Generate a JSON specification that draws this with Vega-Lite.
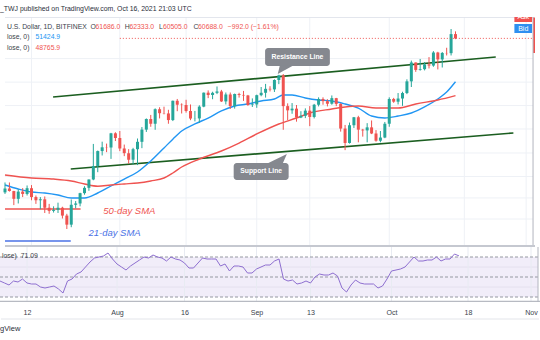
{
"$schema":"https://vega.github.io/schema/vega-lite/v6.json",
"background":"white",
"padding":{"left":0,"right":0,"top":4,"bottom":0},
"title":{"text":"_TWJ published on TradingView.com, Oct 16, 2021 21:03 UTC","anchor":"start","fontSize":6.9,"fontWeight":"normal","color":"#2a2e39","font":"Liberation Sans","offset":4.4},
"config":{"view":{"stroke":null},"font":"Liberation Sans","text":{"font":"Liberation Sans"}},
"spacing":0,
"bounds":"flush",
"datasets":{
"candles":[
{"date":"2021-07-06","open":33700,"high":35000,"low":33500,"close":34200},
{"date":"2021-07-07","open":34200,"high":35000,"low":33800,"close":33870},
{"date":"2021-07-08","open":33870,"high":33900,"low":32100,"close":32880},
{"date":"2021-07-09","open":32880,"high":34100,"low":32300,"close":33800},
{"date":"2021-07-10","open":33800,"high":34250,"low":33100,"close":33500},
{"date":"2021-07-11","open":33500,"high":34600,"low":33300,"close":34240},
{"date":"2021-07-12","open":34240,"high":34650,"low":32700,"close":33100},
{"date":"2021-07-13","open":33100,"high":33300,"low":32250,"close":32700},
{"date":"2021-07-14","open":32700,"high":33100,"low":31600,"close":32820},
{"date":"2021-07-15","open":32820,"high":33180,"low":31150,"close":31780},
{"date":"2021-07-16","open":31780,"high":32250,"low":31050,"close":31400},
{"date":"2021-07-17","open":31400,"high":31950,"low":31200,"close":31530},
{"date":"2021-07-18","open":31530,"high":32400,"low":31150,"close":31780},
{"date":"2021-07-19","open":31780,"high":31900,"low":30500,"close":30840},
{"date":"2021-07-20","open":30840,"high":31050,"low":29300,"close":29790},
{"date":"2021-07-21","open":29790,"high":32800,"low":29500,"close":32140},
{"date":"2021-07-22","open":32140,"high":32600,"low":31700,"close":32300},
{"date":"2021-07-23","open":32300,"high":33650,"low":31950,"close":33600},
{"date":"2021-07-24","open":33600,"high":34500,"low":33400,"close":34290},
{"date":"2021-07-25","open":34290,"high":35400,"low":33900,"close":35400},
{"date":"2021-07-26","open":35400,"high":40550,"low":35300,"close":37270},
{"date":"2021-07-27","open":37270,"high":39540,"low":36400,"close":39460},
{"date":"2021-07-28","open":39460,"high":40900,"low":38800,"close":40030},
{"date":"2021-07-29","open":40030,"high":40600,"low":39300,"close":40000},
{"date":"2021-07-30","open":40000,"high":42300,"low":38300,"close":42230},
{"date":"2021-07-31","open":42230,"high":42400,"low":41000,"close":41480},
{"date":"2021-08-01","open":41480,"high":42600,"low":39450,"close":39850},
{"date":"2021-08-02","open":39850,"high":40450,"low":38700,"close":39150},
{"date":"2021-08-03","open":39150,"high":39750,"low":37600,"close":38180},
{"date":"2021-08-04","open":38180,"high":39950,"low":37500,"close":39740},
{"date":"2021-08-05","open":39740,"high":41400,"low":37400,"close":40880},
{"date":"2021-08-06","open":40880,"high":43250,"low":39900,"close":42830},
{"date":"2021-08-07","open":42830,"high":44700,"low":42450,"close":44600},
{"date":"2021-08-08","open":44600,"high":45300,"low":43300,"close":43800},
{"date":"2021-08-09","open":43800,"high":46450,"low":42800,"close":46300},
{"date":"2021-08-10","open":46300,"high":46650,"low":44700,"close":45600},
{"date":"2021-08-11","open":45600,"high":46750,"low":45400,"close":45560},
{"date":"2021-08-12","open":45560,"high":46200,"low":43800,"close":44420},
{"date":"2021-08-13","open":44420,"high":47850,"low":44250,"close":47820},
{"date":"2021-08-14","open":47820,"high":48150,"low":45950,"close":47100},
{"date":"2021-08-15","open":47100,"high":47350,"low":45550,"close":47050},
{"date":"2021-08-16","open":47050,"high":48000,"low":45700,"close":45990},
{"date":"2021-08-17","open":45990,"high":47150,"low":44400,"close":44680},
{"date":"2021-08-18","open":44680,"high":46000,"low":44200,"close":44700},
{"date":"2021-08-19","open":44700,"high":47000,"low":43950,"close":46760},
{"date":"2021-08-20","open":46760,"high":49350,"low":46650,"close":49320},
{"date":"2021-08-21","open":49320,"high":49750,"low":48300,"close":48880},
{"date":"2021-08-22","open":48880,"high":49500,"low":48100,"close":49290},
{"date":"2021-08-23","open":49290,"high":50500,"low":49050,"close":49550},
{"date":"2021-08-24","open":49550,"high":49850,"low":47600,"close":47700},
{"date":"2021-08-25","open":47700,"high":49350,"low":47150,"close":48980},
{"date":"2021-08-26","open":48980,"high":49350,"low":46350,"close":46850},
{"date":"2021-08-27","open":46850,"high":49150,"low":46400,"close":49070},
{"date":"2021-08-28","open":49070,"high":49300,"low":48400,"close":48900},
{"date":"2021-08-29","open":48900,"high":49650,"low":47800,"close":48800},
{"date":"2021-08-30","open":48800,"high":48900,"low":46900,"close":47050},
{"date":"2021-08-31","open":47050,"high":48250,"low":46700,"close":47150},
{"date":"2021-09-01","open":47150,"high":48950,"low":46550,"close":48850},
{"date":"2021-09-02","open":48850,"high":50400,"low":48650,"close":49300},
{"date":"2021-09-03","open":49300,"high":51000,"low":48400,"close":50050},
{"date":"2021-09-04","open":50050,"high":50550,"low":49550,"close":49940},
{"date":"2021-09-05","open":49940,"high":51900,"low":49450,"close":51770},
{"date":"2021-09-06","open":51770,"high":52800,"low":50950,"close":52680},
{"date":"2021-09-07","open":52680,"high":52950,"low":42800,"close":46850},
{"date":"2021-09-08","open":46850,"high":47350,"low":44400,"close":46100},
{"date":"2021-09-09","open":46100,"high":47400,"low":45500,"close":46400},
{"date":"2021-09-10","open":46400,"high":47050,"low":44150,"close":44850},
{"date":"2021-09-11","open":44850,"high":45950,"low":44750,"close":45150},
{"date":"2021-09-12","open":45150,"high":46450,"low":44750,"close":46050},
{"date":"2021-09-13","open":46050,"high":46850,"low":43400,"close":44950},
{"date":"2021-09-14","open":44950,"high":47250,"low":44700,"close":47100},
{"date":"2021-09-15","open":47100,"high":48450,"low":46800,"close":48150},
{"date":"2021-09-16","open":48150,"high":48450,"low":47100,"close":47750},
{"date":"2021-09-17","open":47750,"high":48100,"low":46800,"close":47280},
{"date":"2021-09-18","open":47280,"high":48800,"low":47100,"close":48300},
{"date":"2021-09-19","open":48300,"high":48350,"low":46850,"close":47250},
{"date":"2021-09-20","open":47250,"high":47350,"low":42500,"close":43000},
{"date":"2021-09-21","open":43000,"high":43600,"low":39600,"close":40700},
{"date":"2021-09-22","open":40700,"high":44000,"low":40600,"close":43550},
{"date":"2021-09-23","open":43550,"high":44950,"low":43100,"close":44900},
{"date":"2021-09-24","open":44900,"high":45150,"low":40800,"close":42820},
{"date":"2021-09-25","open":42820,"high":42950,"low":41700,"close":42700},
{"date":"2021-09-26","open":42700,"high":43900,"low":40800,"close":43200},
{"date":"2021-09-27","open":43200,"high":44350,"low":42100,"close":42200},
{"date":"2021-09-28","open":42200,"high":42750,"low":40900,"close":41050},
{"date":"2021-09-29","open":41050,"high":42600,"low":40800,"close":41550},
{"date":"2021-09-30","open":41550,"high":44100,"low":41450,"close":43800},
{"date":"2021-10-01","open":43800,"high":48450,"low":43300,"close":48150},
{"date":"2021-10-02","open":48150,"high":48350,"low":47450,"close":47650},
{"date":"2021-10-03","open":47650,"high":49250,"low":47150,"close":48230},
{"date":"2021-10-04","open":48230,"high":49500,"low":46900,"close":49250},
{"date":"2021-10-05","open":49250,"high":51900,"low":49050,"close":51500},
{"date":"2021-10-06","open":51500,"high":55750,"low":50400,"close":55350},
{"date":"2021-10-07","open":55350,"high":55350,"low":53400,"close":53800},
{"date":"2021-10-08","open":53800,"high":56100,"low":53650,"close":53950},
{"date":"2021-10-09","open":53950,"high":55450,"low":53700,"close":54950},
{"date":"2021-10-10","open":54950,"high":56500,"low":54100,"close":54700},
{"date":"2021-10-11","open":54700,"high":57800,"low":54450,"close":57500},
{"date":"2021-10-12","open":57500,"high":57650,"low":53900,"close":56000},
{"date":"2021-10-13","open":56000,"high":57600,"low":54300,"close":57400},
{"date":"2021-10-14","open":57400,"high":58550,"low":56850,"close":57350},
{"date":"2021-10-15","open":57350,"high":62900,"low":56850,"close":61680},
{"date":"2021-10-16","open":61686,"high":62333,"low":60505,"close":60688}
],
"sma21":[
{"date":"2021-07-06","price":34660},{"date":"2021-07-09","price":34140},{"date":"2021-07-12","price":33750},{"date":"2021-07-15","price":33620},{"date":"2021-07-18","price":33360},{"date":"2021-07-21","price":32980},{"date":"2021-07-24","price":32980},{"date":"2021-07-27","price":33620},{"date":"2021-07-30","price":34530},{"date":"2021-08-02","price":35460},{"date":"2021-08-05","price":36430},{"date":"2021-08-08","price":37990},{"date":"2021-08-11","price":39930},{"date":"2021-08-13","price":41300},{"date":"2021-08-15","price":42600},{"date":"2021-08-18","price":43760},{"date":"2021-08-21","price":44770},{"date":"2021-08-24","price":45990},{"date":"2021-08-27","price":46870},{"date":"2021-08-30","price":47230},{"date":"2021-09-02","price":47780},{"date":"2021-09-05","price":48140},{"date":"2021-09-07","price":48890},{"date":"2021-09-09","price":48890},{"date":"2021-09-12","price":48330},{"date":"2021-09-15","price":47960},{"date":"2021-09-18","price":47780},{"date":"2021-09-21","price":47230},{"date":"2021-09-24","price":46510},{"date":"2021-09-27","price":45110},{"date":"2021-09-30","price":44770},{"date":"2021-10-03","price":45110},{"date":"2021-10-06","price":45630},{"date":"2021-10-09","price":46700},{"date":"2021-10-12","price":48140},{"date":"2021-10-14","price":49450},{"date":"2021-10-16","price":51425}
],
"sma50":[
{"date":"2021-07-06","price":36010},{"date":"2021-07-12","price":35600},{"date":"2021-07-17","price":35460},{"date":"2021-07-21","price":35200},{"date":"2021-07-24","price":34800},{"date":"2021-07-27","price":34500},{"date":"2021-07-30","price":34660},{"date":"2021-08-02","price":34800},{"date":"2021-08-05","price":34930},{"date":"2021-08-08","price":35200},{"date":"2021-08-11","price":35600},{"date":"2021-08-13","price":36290},{"date":"2021-08-15","price":37130},{"date":"2021-08-19","price":38280},{"date":"2021-08-24","price":39470},{"date":"2021-08-28","price":40690},{"date":"2021-09-01","price":42120},{"date":"2021-09-06","price":43760},{"date":"2021-09-10","price":44770},{"date":"2021-09-13","price":45630},{"date":"2021-09-18","price":46340},{"date":"2021-09-21","price":46700},{"date":"2021-09-24","price":46870},{"date":"2021-09-28","price":46510},{"date":"2021-10-03","price":46510},{"date":"2021-10-07","price":47230},{"date":"2021-10-12","price":47960},{"date":"2021-10-16","price":48766}
],
"rsi":[
{"date":"2021-07-06","v":46},{"date":"2021-07-07","v":44},{"date":"2021-07-08","v":42},{"date":"2021-07-09","v":46},{"date":"2021-07-10","v":45},{"date":"2021-07-11","v":48},{"date":"2021-07-12","v":44},{"date":"2021-07-13","v":43},{"date":"2021-07-14","v":43},{"date":"2021-07-15","v":40},{"date":"2021-07-16","v":39},{"date":"2021-07-17","v":40},{"date":"2021-07-18","v":41},{"date":"2021-07-19","v":38},{"date":"2021-07-20","v":34},{"date":"2021-07-21","v":46},{"date":"2021-07-22","v":48},{"date":"2021-07-23","v":53},{"date":"2021-07-24","v":55},{"date":"2021-07-25","v":60},{"date":"2021-07-26","v":65},{"date":"2021-07-27","v":69},{"date":"2021-07-28","v":70},{"date":"2021-07-29","v":71},{"date":"2021-07-30","v":74},{"date":"2021-07-31","v":68},
{"date":"2021-08-01","v":63},{"date":"2021-08-02","v":60},{"date":"2021-08-03","v":57},{"date":"2021-08-04","v":61},{"date":"2021-08-05","v":64},{"date":"2021-08-06","v":67},{"date":"2021-08-07","v":70},{"date":"2021-08-08","v":69},{"date":"2021-08-09","v":72},{"date":"2021-08-10","v":70},{"date":"2021-08-11","v":69},{"date":"2021-08-12","v":66},{"date":"2021-08-13","v":70},{"date":"2021-08-14","v":68},{"date":"2021-08-15","v":67},{"date":"2021-08-16","v":64},{"date":"2021-08-17","v":59},{"date":"2021-08-18","v":59},{"date":"2021-08-19","v":64},{"date":"2021-08-20","v":69},{"date":"2021-08-21","v":68},{"date":"2021-08-22","v":68},{"date":"2021-08-23","v":68},{"date":"2021-08-24","v":61},{"date":"2021-08-25","v":63},{"date":"2021-08-26","v":56},{"date":"2021-08-27","v":61},{"date":"2021-08-28","v":61},{"date":"2021-08-29","v":60},{"date":"2021-08-30","v":54},{"date":"2021-08-31","v":54},
{"date":"2021-09-01","v":58},{"date":"2021-09-02","v":60},{"date":"2021-09-03","v":62},{"date":"2021-09-04","v":62},{"date":"2021-09-05","v":66},{"date":"2021-09-06","v":68},{"date":"2021-09-07","v":48},{"date":"2021-09-08","v":46},{"date":"2021-09-09","v":47},{"date":"2021-09-10","v":43},{"date":"2021-09-11","v":44},{"date":"2021-09-12","v":46},{"date":"2021-09-13","v":44},{"date":"2021-09-14","v":50},{"date":"2021-09-15","v":53},{"date":"2021-09-16","v":52},{"date":"2021-09-17","v":52},{"date":"2021-09-18","v":54},{"date":"2021-09-19","v":51},{"date":"2021-09-20","v":39},{"date":"2021-09-21","v":35},{"date":"2021-09-22","v":42},{"date":"2021-09-23","v":47},{"date":"2021-09-24","v":44},{"date":"2021-09-25","v":43},{"date":"2021-09-26","v":43},{"date":"2021-09-27","v":43},{"date":"2021-09-28","v":39},{"date":"2021-09-29","v":41},{"date":"2021-09-30","v":48},
{"date":"2021-10-01","v":56},{"date":"2021-10-02","v":57},{"date":"2021-10-03","v":58},{"date":"2021-10-04","v":60},{"date":"2021-10-05","v":65},{"date":"2021-10-06","v":70},{"date":"2021-10-07","v":66},{"date":"2021-10-08","v":66},{"date":"2021-10-09","v":67},{"date":"2021-10-10","v":67},{"date":"2021-10-11","v":70},{"date":"2021-10-12","v":66},{"date":"2021-10-13","v":68},{"date":"2021-10-14","v":68},{"date":"2021-10-15","v":73},{"date":"2021-10-16","v":71.09}
],
"vgrid":[{"date":"2021-07-12"},{"date":"2021-08-01"},{"date":"2021-08-16"},{"date":"2021-09-01"},{"date":"2021-09-13"},{"date":"2021-10-01"},{"date":"2021-10-18"},{"date":"2021-11-01"}]
},
"vconcat":[
{"width":540,"height":230,
 "encoding":{"x":{"field":"date","type":"temporal","scale":{"type":"utc","domain":[{"year":2021,"month":"Jul","date":6,"utc":true},{"year":2021,"month":"Nov","date":3,"utc":true}],"nice":false},"axis":null}},
 "layer":[
{"data":{"values":[{"date":"2021-07-06","date2":"2021-11-02T13:20:00Z","price":56180},{"date":"2021-07-06","date2":"2021-11-02T13:20:00Z","price":51350},{"date":"2021-07-06","date2":"2021-11-02T13:20:00Z","price":46950},{"date":"2021-07-06","date2":"2021-11-02T13:20:00Z","price":42930},{"date":"2021-07-06","date2":"2021-11-02T13:20:00Z","price":39170},{"date":"2021-07-06","date2":"2021-11-02T13:20:00Z","price":35800},{"date":"2021-07-06","date2":"2021-11-02T13:20:00Z","price":32990},{"date":"2021-07-06","date2":"2021-11-02T13:20:00Z","price":30440}]},
 "mark":{"type":"rule","color":"#eef1f6","strokeWidth":1,"clip":true},
 "encoding":{"x2":{"field":"date2"},"y":{"field":"price","type":"quantitative","scale":{"type":"log","domain":[27353,65851],"nice":false},"axis":null}}},
{"data":{"name":"vgrid"},"mark":{"type":"rule","color":"#eef1f6","strokeWidth":1,"clip":true},"encoding":{}},
{"data":{"values":[{"date":"2021-07-06","date2":"2021-11-02T13:20:00Z","price":65754}]},"mark":{"type":"rule","color":"#e0e3eb","strokeWidth":1,"clip":true},
 "encoding":{"x2":{"field":"date2"},"y":{"field":"price","type":"quantitative","scale":{"type":"log","domain":[27353,65851],"nice":false},"axis":null}}},
{"data":{"values":[{"date":"2021-07-06","date2":"2021-07-23T02:40:00Z","price":31630,"role":"redAnn"},{"date":"2021-07-06","date2":"2021-07-20T21:20:00Z","price":27990,"role":"blueAnn"}]},
 "mark":{"type":"rule","strokeWidth":1.6,"clip":true},
 "encoding":{"x2":{"field":"date2"},
  "y":{"field":"price","type":"quantitative","scale":{"type":"log","domain":[27353,65851],"nice":false},"axis":null},
  "color":{"field":"role","type":"nominal","scale":{"domain":["dark","red","blue","redAnn","blueAnn","ask","bid"],"range":["#3b3f4c","#ef5350","#2196f3","#ef5350","#4a72e6","#f0524f","#2f8ff0"]},"legend":null}}},
{"data":{"values":[{"date":"2021-07-16T21:20:00Z","price":48514,"date2":"2021-10-25T02:40:00Z","price2":56521},{"date":"2021-07-20T21:20:00Z","price":36849,"date2":"2021-10-29T02:40:00Z","price2":42283}]},
 "mark":{"type":"rule","color":"#1b5e20","strokeWidth":1.6,"clip":true},
 "encoding":{"x2":{"field":"date2"},
  "y":{"field":"price","type":"quantitative","scale":{"type":"log","domain":[27353,65851],"nice":false},"axis":null},"y2":{"field":"price2"}}},
{"data":{"name":"sma21"},"mark":{"type":"line","color":"#2196f3","strokeWidth":1.4,"clip":true,"interpolate":"monotone"},
 "encoding":{"y":{"field":"price","type":"quantitative","scale":{"type":"log","domain":[27353,65851],"nice":false},"axis":null}}},
{"data":{"name":"sma50"},"mark":{"type":"line","color":"#ef5350","strokeWidth":1.4,"clip":true,"interpolate":"monotone"},
 "encoding":{"y":{"field":"price","type":"quantitative","scale":{"type":"log","domain":[27353,65851],"nice":false},"axis":null}}},
{"data":{"name":"candles"},"mark":{"type":"rule","strokeWidth":1,"clip":true},
 "encoding":{"y":{"field":"low","type":"quantitative","scale":{"type":"log","domain":[27353,65851],"nice":false},"axis":null},"y2":{"field":"high"},
  "color":{"condition":{"test":"datum.open <= datum.close","value":"#26a69a"},"value":"#ef5350"}}},
{"data":{"name":"candles"},"mark":{"type":"bar","width":3,"clip":true},
 "encoding":{"y":{"field":"open","type":"quantitative","scale":{"type":"log","domain":[27353,65851],"nice":false},"axis":null},"y2":{"field":"close"},
  "color":{"condition":{"test":"datum.open <= datum.close","value":"#26a69a"},"value":"#ef5350"}}},
{"data":{"values":[{"date":"2021-08-01","date2":"2021-11-02T13:20:00Z","price":60688}]},"mark":{"type":"rule","color":"#ef5350","strokeWidth":1,"strokeDash":[1,2],"clip":true},
 "encoding":{"x2":{"field":"date2"},"y":{"field":"price","type":"quantitative","scale":{"type":"log","domain":[27353,65851],"nice":false},"axis":null}}},
{"data":{"values":[{"date":"2021-09-02T21:20:00Z","date2":"2021-09-17T13:20:00Z","price":58497,"price2":54610},{"date":"2021-08-26T18:40:00Z","date2":"2021-09-08T05:20:00Z","price":37700,"price2":35330}]},
 "mark":{"type":"rect","color":"#85888f","cornerRadius":3},
 "encoding":{"x2":{"field":"date2"},
  "y":{"field":"price","type":"quantitative","scale":{"type":"log","domain":[27353,65851],"nice":false},"axis":null},"y2":{"field":"price2"}}},
{"data":{"values":[{"date":"2021-09-06T21:20:00Z","price":53783,"k":"r"},{"date":"2021-09-05T18:40:00Z","price":38285,"k":"s"}]},
 "mark":{"type":"point","filled":true,"color":"#85888f","size":100,"opacity":1},
 "encoding":{"y":{"field":"price","type":"quantitative","scale":{"type":"log","domain":[27353,65851],"nice":false},"axis":null},
  "shape":{"field":"k","type":"nominal","scale":{"domain":["r","s"],"range":["M -0.6 -0.85 L 2 -0.85 L -1 0.8 Z","M -2 0.85 L 1 0.85 L 1.8 -1 Z"]},"legend":null}}},
{"data":{"values":[{"date":"2021-09-10T05:20:00Z","price":56521,"txt":"Resistance Line"},{"date":"2021-09-02","price":36497,"txt":"Support Line"}]},
 "mark":{"type":"text","color":"white","fontWeight":"bold","fontSize":6.8,"align":"center","baseline":"middle"},
 "encoding":{"y":{"field":"price","type":"quantitative","scale":{"type":"log","domain":[27353,65851],"nice":false},"axis":null},"text":{"field":"txt"}}},
{"data":{"values":[{"date":"2021-07-28T05:20:00Z","price":31385,"txt":"50-day SMA","role":"redAnn"},{"date":"2021-07-24T21:20:00Z","price":28856,"txt":"21-day SMA","role":"blueAnn"}]},
 "mark":{"type":"text","fontStyle":"italic","fontSize":9.5,"align":"left","baseline":"middle"},
 "encoding":{"y":{"field":"price","type":"quantitative","scale":{"type":"log","domain":[27353,65851],"nice":false},"axis":null},"text":{"field":"txt"},
  "color":{"field":"role","type":"nominal","scale":{"domain":["dark","red","blue","redAnn","blueAnn","ask","bid"],"range":["#3b3f4c","#ef5350","#2196f3","#ef5350","#4a72e6","#f0524f","#2f8ff0"]},"legend":null}}},
{"data":{"values":[
 {"date":"2021-07-06T10:40:00Z","price":63380,"txt":"U.S. Dollar, 1D, BITFINEX","role":"dark"},
 {"date":"2021-07-25T08:00:00Z","price":63380,"txt":"O","role":"dark"},
 {"date":"2021-07-26T12:00:00Z","price":63380,"txt":"61686.0","role":"red"},
 {"date":"2021-08-02T02:40:00Z","price":63380,"txt":"H","role":"dark"},
 {"date":"2021-08-03T04:00:00Z","price":63380,"txt":"62333.0","role":"red"},
 {"date":"2021-08-09T21:20:00Z","price":63380,"txt":"L","role":"dark"},
 {"date":"2021-08-10T18:00:00Z","price":63380,"txt":"60505.0","role":"red"},
 {"date":"2021-08-17T16:00:00Z","price":63380,"txt":"C","role":"dark"},
 {"date":"2021-08-18T17:00:00Z","price":63380,"txt":"60688.0","role":"red"},
 {"date":"2021-08-25T10:40:00Z","price":63380,"txt":"−992.0 (−1.61%)","role":"red"},
 {"date":"2021-07-06T10:40:00Z","price":61007,"txt":"lose, 0)","role":"dark"},
 {"date":"2021-07-12T21:20:00Z","price":61007,"txt":"51424.9","role":"blue"},
 {"date":"2021-07-06T10:40:00Z","price":58497,"txt":"lose, 0)","role":"dark"},
 {"date":"2021-07-12T21:20:00Z","price":58497,"txt":"48765.9","role":"red"}]},
 "mark":{"type":"text","fontSize":6.85,"align":"left","baseline":"middle"},
 "encoding":{"y":{"field":"price","type":"quantitative","scale":{"type":"log","domain":[27353,65851],"nice":false},"axis":null},"text":{"field":"txt"},
  "color":{"field":"role","type":"nominal","scale":{"domain":["dark","red","blue","redAnn","blueAnn","ask","bid"],"range":["#3b3f4c","#ef5350","#2196f3","#ef5350","#4a72e6","#f0524f","#2f8ff0"]},"legend":null}}},
{"data":{"values":[{"date":"2021-10-29T08:00:00Z","date2":"2021-11-02T08:00:00Z","price":66500,"price2":64605,"role":"ask"},{"date":"2021-10-29T08:00:00Z","date2":"2021-11-02T08:00:00Z","price":64113,"price2":61947,"role":"bid"},{"date":"2021-11-02T13:20:00Z","date2":"2021-11-03","price":65700,"price2":57390,"role":"ask"}]},
 "mark":{"type":"rect","clip":true},
 "encoding":{"x2":{"field":"date2"},
  "y":{"field":"price","type":"quantitative","scale":{"type":"log","domain":[27353,65851],"nice":false},"axis":null},"y2":{"field":"price2"},
  "color":{"field":"role","type":"nominal","scale":{"domain":["dark","red","blue","redAnn","blueAnn","ask","bid"],"range":["#3b3f4c","#ef5350","#2196f3","#ef5350","#4a72e6","#f0524f","#2f8ff0"]},"legend":null}}},
{"data":{"values":[{"date":"2021-10-31T08:00:00Z","price":65730,"txt":"Ask"},{"date":"2021-10-31T08:00:00Z","price":62960,"txt":"Bid"}]},
 "mark":{"type":"text","color":"white","fontSize":7,"align":"center","baseline":"middle","clip":true},
 "encoding":{"y":{"field":"price","type":"quantitative","scale":{"type":"log","domain":[27353,65851],"nice":false},"axis":null},"text":{"field":"txt"}}},
{"data":{"values":[{"date":"2021-11-02T13:20:00Z"}]},"mark":{"type":"rule","color":"#b2b5be","strokeWidth":1,"clip":true},"encoding":{}},
{"data":{"values":[{"date":"2021-07-06","date2":"2021-11-03","price":27461}]},"mark":{"type":"rule","color":"#c5c8d0","strokeWidth":2,"clip":true},
 "encoding":{"x2":{"field":"date2"},"y":{"field":"price","type":"quantitative","scale":{"type":"log","domain":[27353,65851],"nice":false},"axis":null}}}
]},
{"width":540,"height":55,
 "encoding":{"x":{"field":"date","type":"temporal","scale":{"type":"utc","domain":[{"year":2021,"month":"Jul","date":6,"utc":true},{"year":2021,"month":"Nov","date":3,"utc":true}],"nice":false},
   "axis":{"values":[{"year":2021,"month":"Jul","date":12,"utc":true},{"year":2021,"month":"Aug","date":1,"utc":true},{"year":2021,"month":"Aug","date":16,"utc":true},{"year":2021,"month":"Sep","date":1,"utc":true},{"year":2021,"month":"Sep","date":13,"utc":true},{"year":2021,"month":"Oct","date":1,"utc":true},{"year":2021,"month":"Oct","date":18,"utc":true},{"year":2021,"month":"Nov","date":1,"utc":true}],
   "labelExpr":"utcdate(datum.value) == 1 ? utcFormat(datum.value, '%b') : utcFormat(datum.value, '%d')",
   "domain":false,"ticks":false,"grid":false,"labelFontSize":7.1,"labelFont":"Liberation Sans","labelColor":"#3b3f4c","labelPadding":6,"title":null,"labelOverlap":false,"labelBound":false,"labelFlush":false,"orient":"bottom"}}},
 "layer":[
{"data":{"values":[{"date":"2021-07-06","date2":"2021-11-02T13:20:00Z","v":30,"v2":70}]},"mark":{"type":"rect","color":"#f1edf9"},
 "encoding":{"x2":{"field":"date2"},
  "y":{"field":"v","type":"quantitative","scale":{"domain":[25,80],"nice":false,"zero":false},"axis":null},"y2":{"field":"v2"}}},
{"data":{"values":[{"date":"2021-07-06","date2":"2021-11-02T13:20:00Z","v":40},{"date":"2021-07-06","date2":"2021-11-02T13:20:00Z","v":60}]},"mark":{"type":"rule","color":"#e4e0ee","strokeWidth":1,"clip":true},
 "encoding":{"x2":{"field":"date2"},
  "y":{"field":"v","type":"quantitative","scale":{"domain":[25,80],"nice":false,"zero":false},"axis":null}}},
{"data":{"name":"vgrid"},"mark":{"type":"rule","color":"#e8ebf2","strokeWidth":1,"clip":true},"encoding":{}},
{"data":{"values":[{"date":"2021-07-06","date2":"2021-11-02T13:20:00Z","v":70},{"date":"2021-07-06","date2":"2021-11-02T13:20:00Z","v":50},{"date":"2021-07-06","date2":"2021-11-02T13:20:00Z","v":30}]},"mark":{"type":"rule","color":"#9598a1","strokeWidth":1,"strokeDash":[3,2],"clip":true},
 "encoding":{"x2":{"field":"date2"},
  "y":{"field":"v","type":"quantitative","scale":{"domain":[25,80],"nice":false,"zero":false},"axis":null}}},
{"data":{"name":"rsi"},"mark":{"type":"line","color":"#8e6fd0","strokeWidth":1,"clip":true},
 "encoding":{"y":{"field":"v","type":"quantitative","scale":{"domain":[25,80],"nice":false,"zero":false},"axis":null}}},
{"data":{"values":[{"date":"2021-07-06","date2":"2021-11-03","v":25.6}]},"mark":{"type":"rule","color":"#b7bac2","strokeWidth":1.5,"clip":true},
 "encoding":{"x2":{"field":"date2"},
  "y":{"field":"v","type":"quantitative","scale":{"domain":[25,80],"nice":false,"zero":false},"axis":null}}},
{"data":{"values":[{"date":"2021-11-02T13:20:00Z"}]},"mark":{"type":"rule","color":"#b2b5be","strokeWidth":1,"clip":true},"encoding":{}},
{"data":{"values":[{"date":"2021-07-06T10:40:00Z","v":71,"txt":"lose)","role":"dark"},{"date":"2021-07-10T14:24:00Z","v":71,"txt":"71.09","role":"purple"}]},
 "mark":{"type":"text","fontSize":6.85,"align":"left","baseline":"middle"},
 "encoding":{"y":{"field":"v","type":"quantitative","scale":{"domain":[25,80],"nice":false,"zero":false},"axis":null},"text":{"field":"txt"},
  "color":{"field":"role","type":"nominal","scale":{"domain":["dark","purple"],"range":["#3b3f4c","#7e57c2"]},"legend":null}}},
{"data":{"values":[{"date":"2021-07-06","v":-2,"txt":"gView"}]},
 "mark":{"type":"text","fontSize":7.5,"align":"left","baseline":"middle","color":"#2a2e39"},
 "encoding":{"y":{"field":"v","type":"quantitative","scale":{"domain":[25,80],"nice":false,"zero":false},"axis":null},"text":{"field":"txt"}}},
{"data":{"values":[{"date":"2021-07-06T05:20:00Z","date2":"2021-11-02T18:40:00Z","v":8}]},"mark":{"type":"rule","color":"#e3e5ea","strokeWidth":1},
 "encoding":{"x2":{"field":"date2"},
  "y":{"field":"v","type":"quantitative","scale":{"domain":[25,80],"nice":false,"zero":false},"axis":null}}}
]}
]
}
